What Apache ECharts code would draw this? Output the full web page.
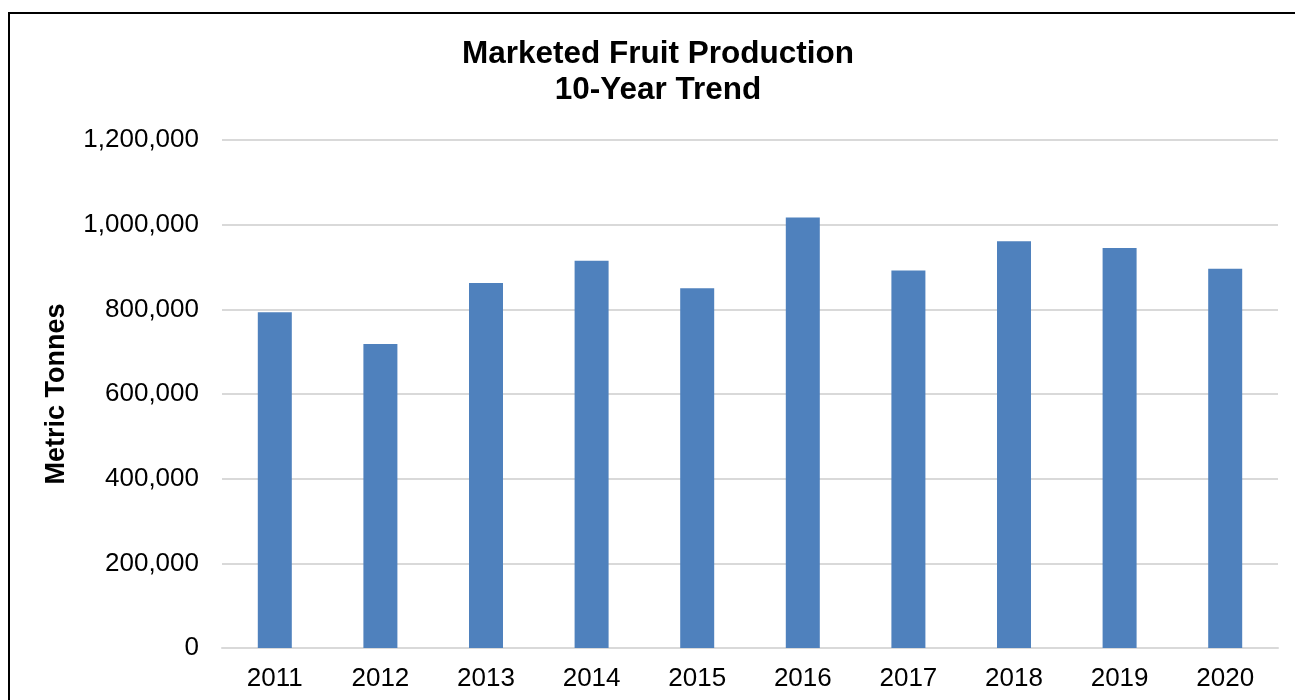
<!DOCTYPE html>
<html>
<head>
<meta charset="utf-8">
<script src="https://cdn.jsdelivr.net/npm/echarts@6/dist/echarts.min.js"></script>
<style>
  html, body { margin: 0; padding: 0; background: #fff; }
  #chart { width: 1295px; height: 700px; }
</style>
</head>
<body>
<div id="chart"></div>
<script>
// values
const years = ['2011', '2012', '2013', '2014', '2015', '2016', '2017', '2018', '2019', '2020']
const tonnes = [793000, 718000, 862000, 915000, 850000, 1017000, 892000, 961000, 945000, 896000]
const yMin = 0
const yMax = 1200000
const yStep = 200000

const font = 'Liberation Sans, Arial, sans-serif'

const chart = echarts.init(document.getElementById('chart'))
chart.setOption({
  animation: false,
  graphic: [{
    type: 'rect',
    shape: { x: 9, y: 13, width: 1400, height: 800 },
    style: { fill: 'none', stroke: '#000', lineWidth: 2 },
    silent: true
  }],
  title: {
    text: 'Marketed Fruit Production\n10-Year Trend',
    left: 653,
    top: 31,
    textAlign: 'center',
    textStyle: {
      fontFamily: font,
      fontWeight: 'bold',
      fontSize: 31.5,
      lineHeight: 36,
      color: '#000'
    }
  },
  grid: {
    left: 222,
    right: 17,
    top: 140,
    bottom: 52,
    containLabel: false
  },
  xAxis: {
    type: 'category',
    data: years,
    axisTick: { show: false },
    axisLine: { lineStyle: { color: '#d9d9d9', width: 2 } },
    axisLabel: {
      fontFamily: font,
      fontSize: 26,
      color: '#000',
      margin: 18
    }
  },
  yAxis: {
    type: 'value',
    min: yMin,
    max: yMax,
    interval: yStep,
    name: 'Metric Tonnes',
    nameLocation: 'middle',
    nameGap: 152,
    nameRotate: 90,
    nameTextStyle: {
      fontFamily: font,
      fontWeight: 'bold',
      fontSize: 27,
      color: '#000'
    },
    axisLine: { show: false },
    axisTick: { show: false },
    splitLine: { lineStyle: { color: '#d9d9d9', width: 2 } },
    axisLabel: {
      fontFamily: font,
      fontSize: 26,
      color: '#000',
      margin: 23,
      formatter: v => v.toLocaleString('en-US')
    }
  },
  series: [{
    type: 'bar',
    data: tonnes,
    barWidth: 34,
    itemStyle: { color: '#4f81bd' }
  }]
})
</script>
</body>
</html>
